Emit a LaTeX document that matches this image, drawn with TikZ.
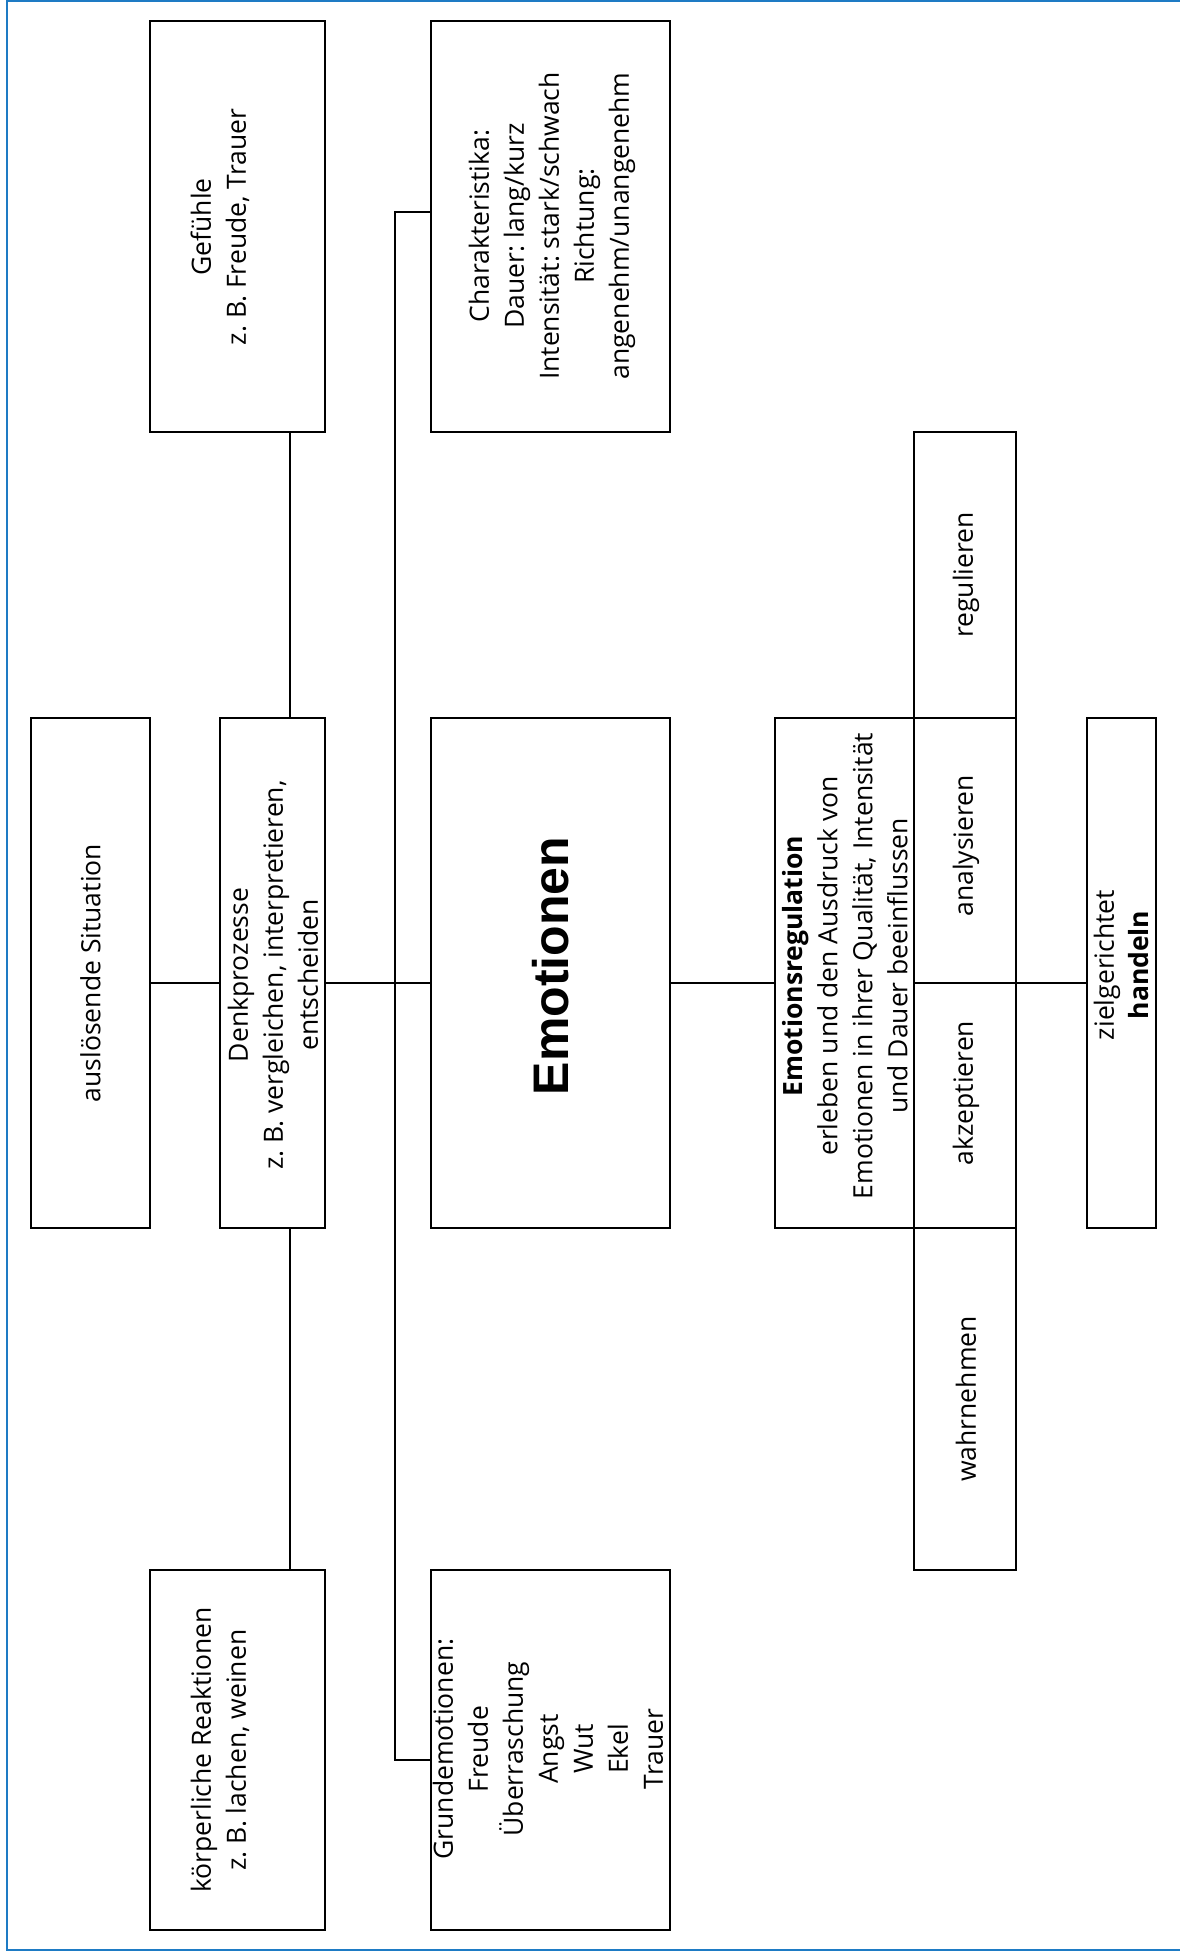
\documentclass[tikz,border=0pt]{standalone}
\usepackage{fontspec}
\setmainfont{Open Sans}
\newfontfamily\emofont{Liberation Sans}
\definecolor{framecol}{HTML}{1E7BC4}
\frenchspacing
\tikzset{
  box/.style={draw=black, line width=2pt, inner sep=0pt, outer sep=0pt},
  txt/.style={inner sep=0pt, outer sep=0pt, rotate=90, align=center,
              font=\fontsize{26.5}{35}\selectfont},
  link/.style={draw=black, line width=1.5pt},
  framing/.style={draw=framecol, line width=1.5pt}
}
\begin{document}
\begin{tikzpicture}[x=1pt,y=-1pt]
\useasboundingbox (0,0) rectangle (1180,1952);
\draw[framing] (1180,1) -- (7,1) -- (7,1950) -- (1180,1950);

% boxes
\node[box, minimum width=175, minimum height=411] (gef) at (237.5,226.5) {};
\node[box, minimum width=239, minimum height=411] (char) at (550.5,226.5) {};
\node[box, minimum width=102, minimum height=286] (reg) at (965,575) {};
\node[box, minimum width=119, minimum height=510] (ausl) at (90.5,973) {};
\node[box, minimum width=105, minimum height=510] (denk) at (272.5,973) {};
\node[box, minimum width=239, minimum height=510] (emo) at (550.5,973) {};
\node[box, minimum width=139, minimum height=510] (emoreg) at (844.5,973) {};
\node[box, minimum width=102, minimum height=265] (anal) at (965,850.5) {};
\node[box, minimum width=102, minimum height=245] (akz) at (965,1105.5) {};
\node[box, minimum width=102, minimum height=342] (wahr) at (965,1399) {};
\node[box, minimum width=69, minimum height=510] (hand) at (1121.5,973) {};
\node[box, minimum width=175, minimum height=360] (koerp) at (237.5,1750) {};
\node[box, minimum width=239, minimum height=360] (grund) at (550.5,1750) {};

% texts
\node[txt] (gefT) at (220,227) {Gefühle\\z.\ B. Freude, Trauer};
\node[txt] (charT) at (552,226) {Charakteristika:\\Dauer: lang/kurz\\Intensität: stark/schwach\\Richtung:\\angenehm/unangenehm};
\node[txt] (regT) at (966,575) {regulieren};
\node[txt] (auslT) at (90.5,973) {auslösende Situation};
\node[txt] (denkT) at (273,975) {Denkprozesse\\z.\ B. vergleichen, interpretieren,\\entscheiden};
\node[txt, font=\emofont\bfseries\fontsize{50}{60}\selectfont] (emoT) at (551,966) {Emotionen};
\node[txt] (emoregT) at (845,966) {\textbf{Emotionsregulation}\\erleben und den Ausdruck von\\Emotionen in ihrer Qualität, Intensität\\und Dauer beeinflussen};
\node[txt] (analT) at (966,846) {analysieren};
\node[txt] (akzT) at (966,1093) {akzeptieren};
\node[txt] (wahrT) at (966,1399) {wahrnehmen};
\node[txt] (handT) at (1121.5,965) {zielgerichtet\\\textbf{handeln}};
\node[txt] (koerpT) at (220,1750) {körperliche Reaktionen\\z.\ B. lachen, weinen};
\node[txt] (grundT) at (548,1749) {Grundemotionen:\\Freude\\Überraschung\\Angst\\Wut\\Ekel\\Trauer};

% connectors
\coordinate (hL) at (0,983);
\coordinate (vA) at (290,0);
\coordinate (sT) at (395,212);
\coordinate (sB) at (395,1760);
\draw[link] (ausl.east |- hL) -- (denk.west |- hL);
\draw[link] (denk.east |- hL) -- (emo.west |- hL);
\draw[link] (emo.east |- hL) -- (emoreg.west |- hL);
\draw[link] (anal.east |- hL) -- (hand.west |- hL);
\draw[link] (vA |- gef.south) -- (vA |- denk.north);
\draw[link] (vA |- denk.south) -- (vA |- koerp.north);
\draw[link] (char.west |- sT) -- (sT) -- (sB) -- (grund.west |- sB);
\end{tikzpicture}
\end{document}
